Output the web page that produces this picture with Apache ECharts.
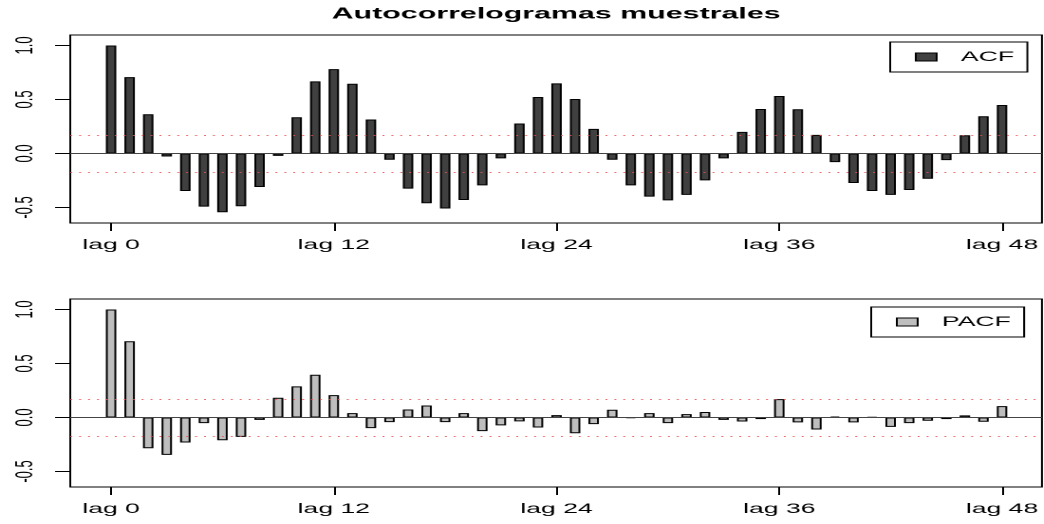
<!DOCTYPE html>
<html>
<head>
<meta charset="utf-8">
<script src="https://cdn.jsdelivr.net/npm/echarts@6/dist/echarts.min.js"></script>
<style>
    html, body { margin: 0; padding: 0; overflow: hidden; background: #fff; }
    /* the reference is stretched horizontally, so draw narrow and widen */
    #chart { width: 550px; height: 524px; transform: scaleX(1.898); transform-origin: 0 0; }
</style>
</head>
<body>
<div id="chart"></div>
<script>
// lags 0..48
const lags = Array.from({length: 49}, (_, i) => i);

const acfValues = [
    1.000, 0.707, 0.363, -0.028, -0.348, -0.492, -0.545, -0.489, -0.311, -0.022,
    0.335, 0.667, 0.781, 0.646, 0.314, -0.058, -0.326, -0.461, -0.510, -0.431,
    -0.295, -0.045, 0.277, 0.523, 0.649, 0.504, 0.228, -0.058, -0.295, -0.400,
    -0.434, -0.384, -0.249, -0.046, 0.200, 0.412, 0.532, 0.409, 0.172, -0.080,
    -0.274, -0.348, -0.384, -0.338, -0.234, -0.062, 0.169, 0.344, 0.449
];

const pacfValues = [
    1.000, 0.706, -0.285, -0.347, -0.232, -0.053, -0.211, -0.180, -0.022, 0.183,
    0.288, 0.396, 0.207, 0.040, -0.099, -0.043, 0.074, 0.111, -0.043, 0.040,
    -0.127, -0.073, -0.036, -0.093, 0.022, -0.146, -0.062, 0.071, -0.006, 0.040,
    -0.053, 0.031, 0.050, -0.022, -0.037, -0.015, 0.170, -0.046, -0.111, 0.009,
    -0.046, 0.005, -0.087, -0.053, -0.031, -0.015, 0.019, -0.040, 0.105
];

const confLimit = 0.167;
const xTickLags = [0, 12, 24, 36, 48];
const yTicks = [-0.5, 0, 0.5, 1];

const font = 'Liberation Sans';

function makeGrid(top) {
    return {
        left: 37,
        right: 1,
        top: top,
        height: 188,
        show: true,
        borderColor: '#000',
        borderWidth: 1,
        backgroundColor: 'transparent'
    };
}

function makeXAxis(gridIndex) {
    return {
        type: 'value',
        gridIndex: gridIndex,
        position: 'bottom',
        min: -2.2,
        max: 50.15,
        axisLine: {show: false, onZero: false},
        splitLine: {show: false},
        axisTick: {
            show: true,
            customValues: xTickLags,
            length: 8,
            lineStyle: {color: '#000', width: 1}
        },
        axisLabel: {
            customValues: xTickLags,
            formatter: function(v) {
                return 'lag ' + v;
            },
            color: '#000',
            fontFamily: font,
            fontSize: 14,
            margin: 15
        }
    };
}

function makeYAxis(gridIndex) {
    return {
        type: 'value',
        gridIndex: gridIndex,
        position: 'left',
        min: -0.644,
        max: 1.097,
        axisLine: {show: false, onZero: false},
        splitLine: {show: false},
        axisTick: {
            show: true,
            customValues: yTicks,
            length: 8,
            lineStyle: {color: '#000', width: 1}
        },
        axisLabel: {
            customValues: yTicks,
            rotate: 90,
            formatter: function(v) {
                return Number(v).toFixed(1);
            },
            color: '#000',
            fontFamily: font,
            fontSize: 13,
            margin: 17
        }
    };
}

function refLines() {
    const dotted = {color: 'rgba(235,80,80,0.85)', width: 1, type: [1, 3.7]};
    return {
        symbol: 'none',
        silent: true,
        animation: false,
        label: {show: false},
        data: [
            {yAxis: 0, lineStyle: {color: '#444', width: 1, type: 'solid'}},
            {yAxis: confLimit, lineStyle: dotted},
            {yAxis: -confLimit, lineStyle: dotted}
        ]
    };
}

function makeLegend(name, left, top, padding) {
    return {
        data: [name],
        left: left,
        top: top,
        orient: 'horizontal',
        icon: 'rect',
        itemWidth: 11,
        itemHeight: 8,
        padding: padding,
        borderColor: '#000',
        borderWidth: 1,
        borderRadius: 0,
        backgroundColor: '#fff',
        selectedMode: false,
        itemStyle: {borderColor: '#000', borderWidth: 1},
        formatter: function(n) {
            return '  ' + n;
        },
        textStyle: {color: '#000', fontFamily: font, fontSize: 14}
    };
}

const chart = echarts.init(document.getElementById('chart'), null, {devicePixelRatio: 2});

const option = {
    animation: false,
    title: {
        text: 'Autocorrelogramas muestrales',
        left: 293,
        textAlign: 'center',
        top: 6,
        padding: 0,
        textStyle: {color: '#000', fontFamily: font, fontSize: 16, fontWeight: 'bold'}
    },
    legend: [
        makeLegend('ACF', 469, 42, [8, 7, 8, 13]),
        makeLegend('PACF', 459, 307, [8, 7, 8, 13])
    ],
    grid: [makeGrid(35), makeGrid(299)],
    xAxis: [makeXAxis(0), makeXAxis(1)],
    yAxis: [makeYAxis(0), makeYAxis(1)],
    series: [
        {
            name: 'ACF',
            type: 'bar',
            xAxisIndex: 0,
            yAxisIndex: 0,
            barWidth: 5.5,
            data: lags.map(function(l, i) {
                return [l, acfValues[i]];
            }),
            itemStyle: {color: '#404040', borderColor: '#000', borderWidth: 1},
            markLine: refLines()
        },
        {
            name: 'PACF',
            type: 'bar',
            xAxisIndex: 1,
            yAxisIndex: 1,
            barWidth: 5.5,
            data: lags.map(function(l, i) {
                return [l, pacfValues[i]];
            }),
            itemStyle: {color: '#bebebe', borderColor: '#000', borderWidth: 1},
            markLine: refLines()
        }
    ]
};

chart.setOption(option);
</script>
</body>
</html>
